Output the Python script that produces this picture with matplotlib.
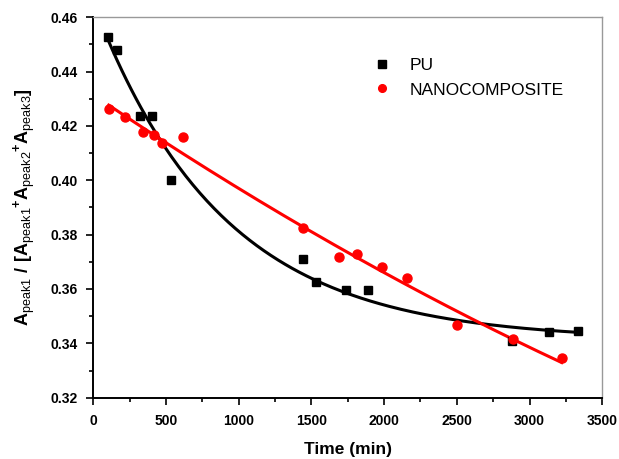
import numpy as np
import matplotlib
matplotlib.use('Agg')
import matplotlib.pyplot as plt
from matplotlib.ticker import MultipleLocator

plt.rcParams['font.family'] = 'Liberation Sans'
plt.rcParams['mathtext.fontset'] = 'custom'
plt.rcParams['mathtext.rm'] = 'Liberation Sans'
plt.rcParams['mathtext.bf'] = 'Liberation Sans:bold'

# data
pu_time = [99, 161, 319, 406, 532, 1440, 1530, 1736, 1889, 2878, 3136, 3336]
pu_ratio = [0.4528, 0.448, 0.4237, 0.4237, 0.4003, 0.3709, 0.3624, 0.3597,
            0.3596, 0.3409, 0.344, 0.3447]

nano_time = [106, 220, 340, 420, 470, 615, 1440, 1692, 1811, 1983, 2155,
             2499, 2889, 3221]
nano_ratio = [0.4262, 0.4233, 0.4179, 0.4167, 0.4139, 0.4158, 0.3825, 0.3717,
              0.3729, 0.368, 0.3641, 0.3469, 0.3415, 0.3346]

pu_time = np.array(pu_time, float)
pu_ratio = np.array(pu_ratio)
nano_time = np.array(nano_time, float)
nano_ratio = np.array(nano_ratio)

# exponential decay fit for PU: y = y0 + a*exp(-x/t), grid search on t
best = None
for t in np.linspace(200, 3000, 561):
    M = np.column_stack([np.ones_like(pu_time), np.exp(-pu_time / t)])
    coef, res, _, _ = np.linalg.lstsq(M, pu_ratio, rcond=None)
    err = np.sum((M @ coef - pu_ratio) ** 2)
    if best is None or err < best[0]:
        best = (err, t, coef)
_, tau, (y0, amp) = best
xp = np.linspace(pu_time.min(), pu_time.max(), 200)
yp = y0 + amp * np.exp(-xp / tau)

# quadratic fit for nanocomposite
pn = np.polyfit(nano_time, nano_ratio, 2)
xn = np.linspace(nano_time.min(), nano_time.max(), 200)
yn = np.polyval(pn, xn)

fig = plt.figure(figsize=(6.19, 4.59), dpi=100)
ax = fig.add_axes([0.1507, 0.1336, 0.8223, 0.8287])

ax.plot(xp, yp, color='black', lw=2.2)
ax.plot(xn, yn, color='red', lw=2.2)
ax.plot(pu_time, pu_ratio, 's', color='black', ms=6, label='PU')
ax.plot(nano_time, nano_ratio, 'o', color='red', ms=6.5, label='NANOCOMPOSITE')

ax.set_xlim(0, 3500)
ax.set_ylim(0.32, 0.46)
ax.xaxis.set_major_locator(MultipleLocator(500))
ax.xaxis.set_minor_locator(MultipleLocator(250))
ax.yaxis.set_major_locator(MultipleLocator(0.02))
ax.yaxis.set_minor_locator(MultipleLocator(0.01))
ax.yaxis.set_major_formatter(plt.FuncFormatter(lambda v, p: f'{v:.2f}'))

ax.tick_params(which='both', direction='out', top=False, right=False,
               width=1.2, labelsize=10)
ax.tick_params(which='major', length=5)
ax.tick_params(which='minor', length=3)
ax.tick_params(axis='x', pad=7)
ax.tick_params(axis='y', pad=6)
for lab in ax.get_xticklabels() + ax.get_yticklabels():
    lab.set_fontweight('bold')

for s in ['left', 'bottom']:
    ax.spines[s].set_linewidth(1.4)
    ax.spines[s].set_color('black')
for s in ['top', 'right']:
    ax.spines[s].set_linewidth(1.0)
    ax.spines[s].set_color('#999999')

ax.set_xlabel('Time (min)', fontsize=12.5, fontweight='bold', labelpad=10)
ax.set_ylabel(r'$\mathbf{A}_{\mathrm{peak1}}\mathbf{\ /\ [A}_{\mathrm{peak1}}{}^{\mathbf{+}}\mathbf{A}_{\mathrm{peak2}}'
              r'{}^{\mathbf{+}}\mathbf{A}_{\mathrm{peak3}}\mathbf{]}$', fontsize=13, labelpad=9)

ax.legend(loc='upper left', bbox_to_anchor=(0.522, 0.935), frameon=False,
          fontsize=12.5, handletextpad=1.2, labelspacing=0.55, handlelength=0.8,
          markerscale=0.85)

fig.savefig('out.png', dpi=100)
